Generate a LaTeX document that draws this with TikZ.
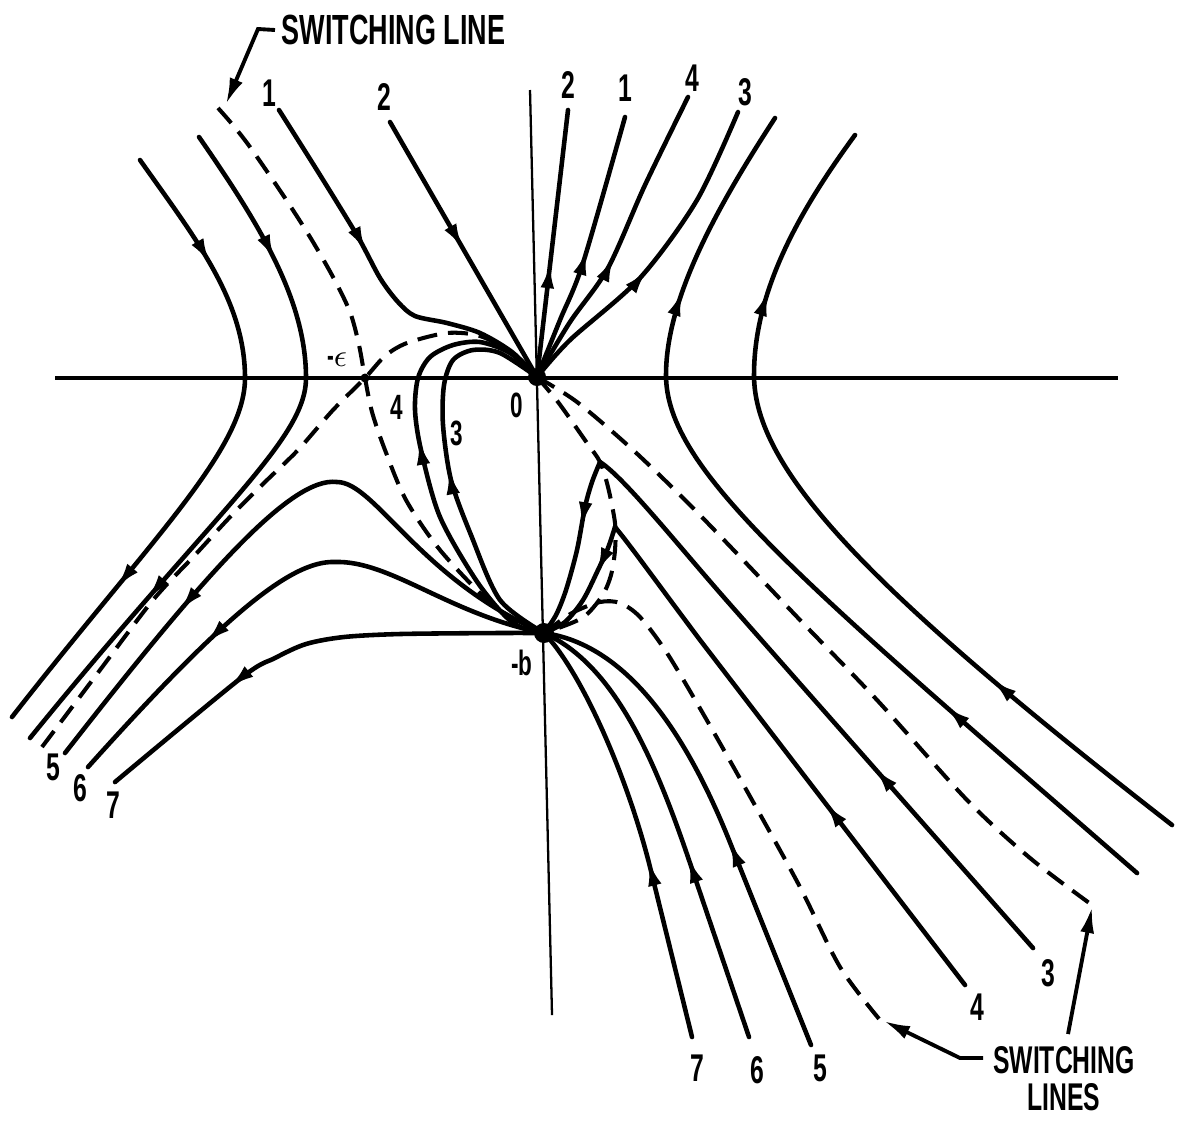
\documentclass[tikz,border=0pt]{standalone}
\usepackage{fontspec}
\newfontfamily\lettering[FakeStretch=0.64]{Liberation Sans}
\usetikzlibrary{arrows.meta,decorations.markings}
\tikzset{
  flowtip/.tip={Latex[length=2.6mm,width=1.35mm]},
  traj/.style={line width=1.3pt,line cap=round,line join=round},
  switchline/.style={line width=1.15pt,dash pattern=on 2mm off 1.1mm},
  axisline/.style={line width=#1},
  axisline/.default=0.9pt,
  arr/.style={postaction={decorate,decoration={markings,
    mark=at position #1 with {\arrow{flowtip}}}}},
  num/.style={font=\lettering\bfseries\fontsize{11}{12}\selectfont,inner sep=0pt},
  small num/.style={font=\lettering\bfseries\fontsize{10}{11}\selectfont,inner sep=0pt},
  note/.style={font=\lettering\bfseries\fontsize{#1}{10.5}\selectfont,inner sep=0pt,align=center},
  note/.default=12,
  leader/.style={line width=1.1pt,-{Latex[length=2.6mm,width=1.4mm]}},
}

\begin{document}
\begin{tikzpicture}[x=0.1mm,y=-0.1mm]
  \useasboundingbox (0,0) rectangle (1178,1124);
  \coordinate (O) at (537,377);
  \coordinate (B) at (544,633);
  \coordinate (E) at (365,378);

  % axes
  \draw[axisline] (55,378) -- (1118,378);
  \draw[axisline=0.65pt] (530,90) -- (552,1015);

  % left hyperbolas
  \draw[traj,arr=0.19,arr=0.75] (140,160) .. controls (195,238) and (245,300) .. (245,378)
    .. controls (245,450) and (150,540) .. (12,717);
  \draw[traj,arr=0.2,arr=0.75] (199,137) .. controls (260,225) and (306,300) .. (306,378)
    .. controls (306,440) and (215,510) .. (30,738);

  % right hyperbolas
  \draw[traj,arr=0.26,arr=0.8] (1137,873) .. controls (800,580) and (666,470) .. (666,375)
    .. controls (666,300) and (715,210) .. (775,118);
  \draw[traj,arr=0.26,arr=0.8] (1172,825) .. controls (870,590) and (754,470) .. (754,375)
    .. controls (754,290) and (800,210) .. (855,135);

  % trajectories 1 and 2 through the origin
  \draw[traj,arr=0.43] plot[smooth] coordinates {(279,110) (320,175) (358,237) (380,278) (398,302) (415,316) (447,323) (480,333) (512,352) (O)};
  \draw[traj,arr=0.5] plot[smooth] coordinates {(O) (560,320) (583,263) (625,117)};
  \draw[traj,arr=0.5] (390,122) -- (O);
  \draw[traj,arr=0.43] (O) -- (568,110);

  % trajectories 3 and 4
  \draw[traj,arr=0.37] (1033,948) -- (735,610) .. controls (680,548) and (625,478) .. (600,462);
  \draw[traj,arr=0.38] plot[smooth] coordinates {(600,462) (592,482) (585,507) (577,550) (566,590) (556,615) (B)};
  \draw[traj,arr=0.49] plot[smooth] coordinates {(B) (500,600) (471,535) (451,480) (443,425) (444,385) (453,360) (473,350) (500,353) (O)};
  \draw[traj,arr=0.46] plot[smooth] coordinates {(O) (570,340) (640,278) (697,200) (738,112)};
  \draw[traj,arr=0.4] (965,985) -- (700,640) .. controls (655,580) and (630,545) .. (615,527);
  \draw[traj,arr=0.38] plot[smooth] coordinates {(615,527) (608,548) (598,570) (583,600) (565,622) (B)};
  \draw[traj,arr=0.54] plot[smooth] coordinates {(B) (513,623) (478,583) (440,517) (421,450) (415,410) (418,378) (430,357) (453,345) (480,342) (510,353) (O)};
  \draw[traj,arr=0.45] plot[smooth] coordinates {(O) (570,322) (608,268) (645,185) (688,97)};

  % trajectories 5, 6 and 7
  \draw[traj,arr=0.43] (811,1045) -- (733,850) .. controls (690,740) and (630,645) .. (B);
  \draw[traj,arr=0.41] (749,1037) -- (690,863) .. controls (655,760) and (615,665) .. (B);
  \draw[traj,arr=0.42] (692,1037) -- (649,863) .. controls (625,770) and (580,670) .. (B);
  \draw[traj,arr=0.72] (B) .. controls (420,580) and (375,482) .. (337,482)
    .. controls (290,476) and (200,580) .. (65,753);
  \draw[traj,arr=0.69] (B) .. controls (450,615) and (390,560) .. (335,562)
    .. controls (290,560) and (220,620) .. (88,767);
  \draw[traj,arr=0.69] plot[smooth] coordinates {(B) (497,633) (400,634) (344,637) (306,644) (275,658) (241,678) (115,782)};

  % switching lines
  \draw[switchline] plot[smooth] coordinates {(218,108) (232,124) (250,147) (283,195) (310,237) (333,277) (350,312) (359,345) (E) (372,412) (385,450) (406,500) (440,550) (490,603) (520,624) (B)};
  \draw[switchline] plot[smooth] coordinates {(42,747) (100,670) (153,600) (195,555) (230,517) (265,482) (298,450) (333,410) (E) (385,356) (407,343) (447,333) (480,336) (510,352) (O)};
  \draw[switchline] plot[smooth] coordinates {(O) (558,402) (587,443) (600,462) (608,487) (615,523) (615,550) (611,575) (602,596) (582,618) (B)};
  \draw[switchline] plot[smooth] coordinates {(O) (577,402) (633,450) (690,505) (745,562) (800,620) (877,700) (967,800) (1030,858) (1092,905)};
  \draw[switchline] plot[smooth] coordinates {(B) (572,613) (600,602) (620,603) (640,617) (667,653) (705,717) (752,800) (800,887) (840,967) (880,1020)};

  \fill (O) circle (0.9mm);
  \fill (B) circle (1mm);
  \fill (E) circle (0.45mm);

  % labels
  \foreach \t/\x/\y [count=\i] in {1/269/93, 2/384/97, 2/568/85, 1/625/88, 4/692/78, 3/745/92,
      5/53/767, 6/80/788, 7/113/805, 7/697/1068, 6/757/1070, 5/820/1068, 4/977/1007, 3/1048/973}
    \node[num] (n\i) at (\x,\y) {\t};
  \foreach \t/\x/\y [count=\i] in {4/397/407, 3/457/433, 0/517/405}
    \node[small num] (m\i) at (\x,\y) {\t};
  \node[small num,font=\lettering\bfseries\fontsize{9}{10}\selectfont] (eps) at (337,360) {-$\epsilon$};
  \node[small num] (minb) at (522,663) {-b};

  \node[note,anchor=west] (swtop) at (281,30) {SWITCHING LINE};
  \node[note=11] (swbot) at (1064,1079) {SWITCHING\\LINES};
  \coordinate (tipA) at (226,104);
  \coordinate (tipB) at (884,1021);
  \coordinate (tipC) at (1092,907);
  \draw[leader] ([xshift=-0.6mm]swtop.west) -- (258,29) -- (tipA);
  \draw[leader] (983,1058) -- (960,1058) -- (tipB);
  \draw[leader] (1068,1034) -- (tipC);
\end{tikzpicture}
\end{document}
